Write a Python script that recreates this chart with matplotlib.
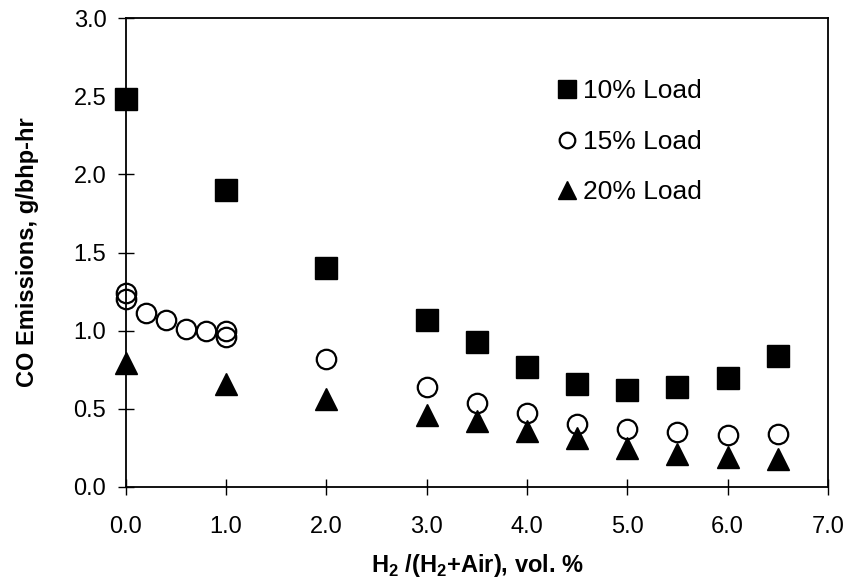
import matplotlib
matplotlib.use('Agg')
import matplotlib.pyplot as plt

plt.rcParams['font.family'] = ['Liberation Sans', 'DejaVu Sans']
plt.rcParams['mathtext.fontset'] = 'custom'
plt.rcParams['mathtext.rm'] = 'Liberation Sans'
plt.rcParams['mathtext.bf'] = 'Liberation Sans:bold'

# Data
h2_10 = [0.0, 1.0, 2.0, 3.0, 3.5, 4.0, 4.5, 5.0, 5.5, 6.0, 6.5]
co_10 = [2.48, 1.90, 1.40, 1.07, 0.93, 0.77, 0.66, 0.62, 0.64, 0.70, 0.84]

h2_15 = [0.0, 0.0, 0.2, 0.4, 0.6, 0.8, 1.0, 1.0, 2.0, 3.0, 3.5, 4.0, 4.5, 5.0, 5.5, 6.0, 6.5]
co_15 = [1.24, 1.20, 1.11, 1.07, 1.01, 1.00, 1.00, 0.96, 0.82, 0.64, 0.54, 0.47, 0.40, 0.37, 0.35, 0.33, 0.34]

h2_20 = [0.0, 1.0, 2.0, 3.0, 3.5, 4.0, 4.5, 5.0, 5.5, 6.0, 6.5]
co_20 = [0.79, 0.66, 0.56, 0.46, 0.42, 0.36, 0.31, 0.25, 0.21, 0.19, 0.18]

labels = ['10% Load', '15% Load', '20% Load']

fig = plt.figure(figsize=(8.5, 5.88), dpi=100)
ax = fig.add_axes([0.148, 0.172, 0.826, 0.797])

ax.plot(h2_10, co_10, 's', color='black', markersize=16, clip_on=False, zorder=3, label=labels[0])
ax.plot(h2_15, co_15, 'o', mfc='none', mec='black', mew=1.6, markersize=14, clip_on=False, zorder=4, label=labels[1])
ax.plot(h2_20, co_20, '^', color='black', markersize=16, clip_on=False, zorder=5, label=labels[2])

ax.set_xlim(0, 7)
ax.set_ylim(0, 3)
ax.set_xticks([0, 1, 2, 3, 4, 5, 6, 7])
ax.set_yticks([0, 0.5, 1.0, 1.5, 2.0, 2.5, 3.0])
ax.xaxis.set_major_formatter(matplotlib.ticker.FormatStrFormatter('%.1f'))
ax.yaxis.set_major_formatter(matplotlib.ticker.FormatStrFormatter('%.1f'))

for s in ax.spines.values():
    s.set_linewidth(1.3)
ax.tick_params(direction='inout', length=12, width=1.0, labelsize=17)
ax.tick_params(axis='x', pad=15)
ax.tick_params(axis='y', pad=8)

ax.set_xlabel(r'H$_{\mathbf{2}}$ /(H$_{\mathbf{2}}$+Air), vol. %', fontsize=17, fontweight='bold', labelpad=10)
ax.set_ylabel('CO Emissions, g/bhp-hr', fontsize=17, fontweight='bold')
ax.yaxis.set_label_coords(-0.123, 0.5)

ax.legend(loc='upper left', bbox_to_anchor=(0.58, 0.92), frameon=False, fontsize=19,
          markerscale=0.8, handlelength=0.8, handletextpad=0.2, labelspacing=1.0)

fig.savefig('out.png', dpi=100)
